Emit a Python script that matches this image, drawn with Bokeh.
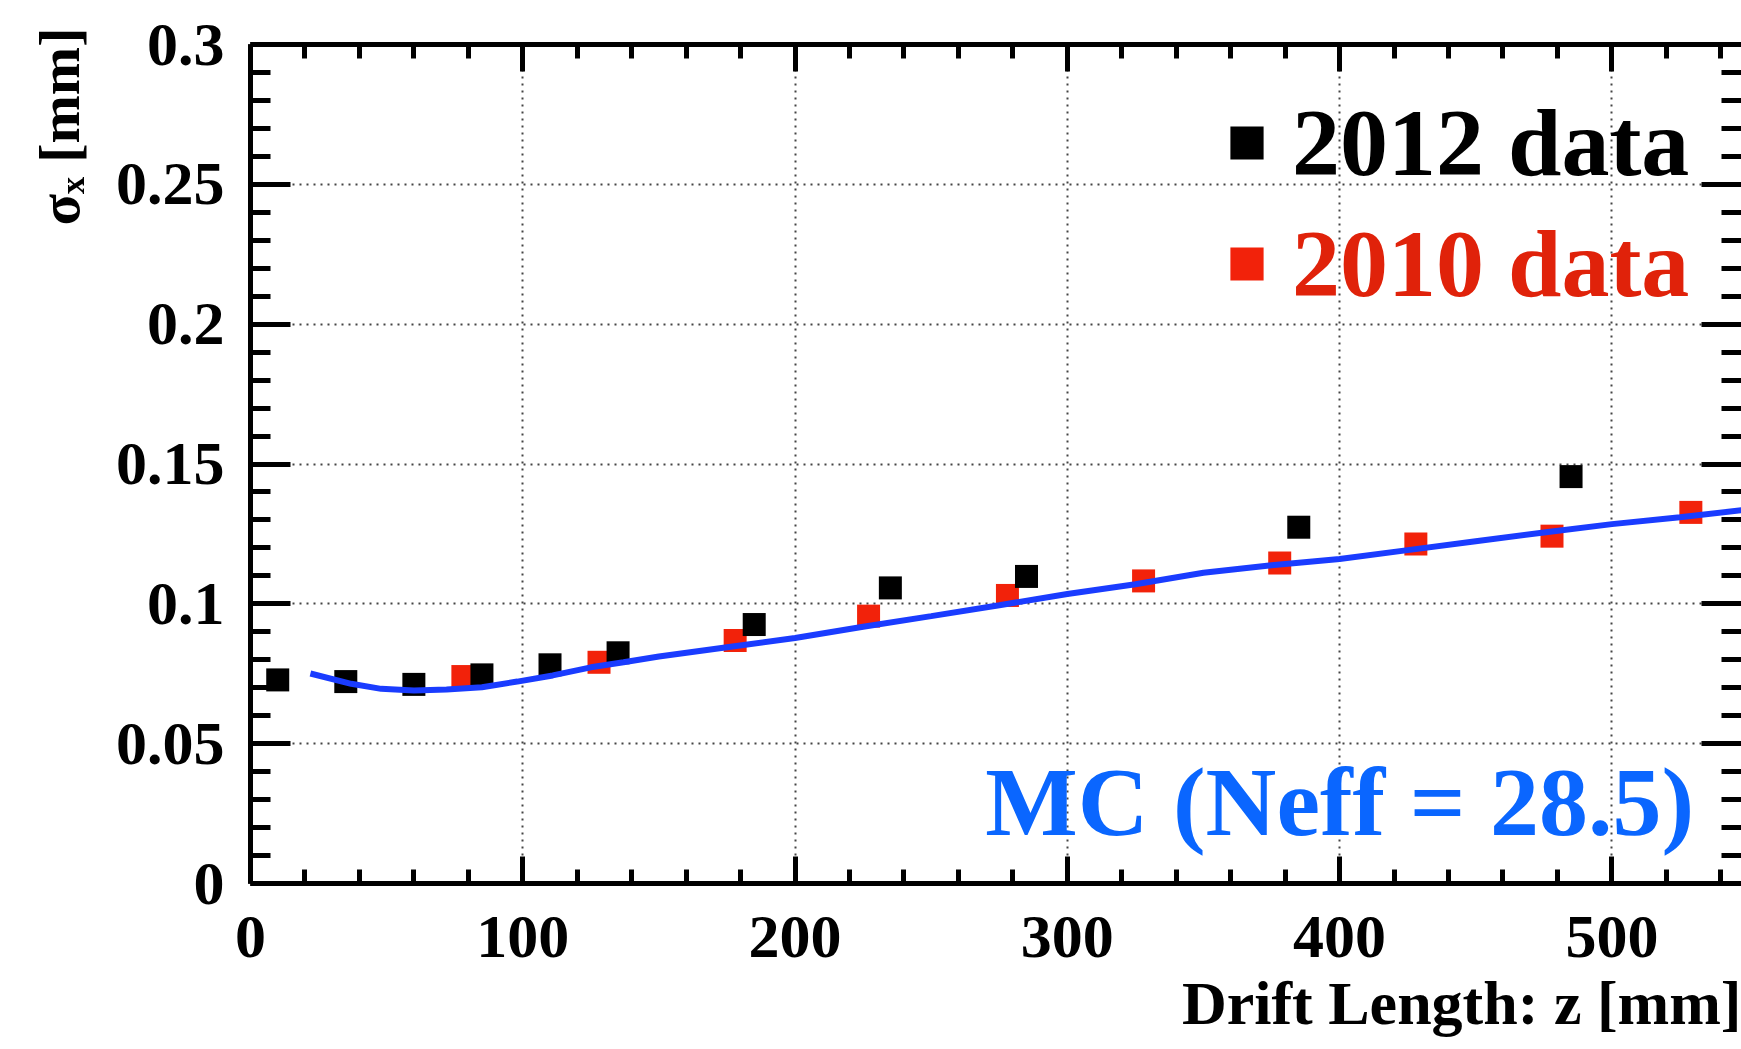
from bokeh.plotting import figure
from bokeh.models import (Range1d, LinearAxis, SingleIntervalTicker, NumeralTickFormatter,
                          CustomJSTickFormatter, Legend, LegendItem, Label, Title)
from bokeh.embed import file_html
from bokeh.resources import INLINE

# ---- data ----
z_2012 = [10, 35, 60, 85, 110, 135, 185, 235, 285, 385, 485]
sigma_2012 = [0.0728, 0.0722, 0.0712, 0.0746, 0.0782, 0.0825, 0.0926, 0.1057, 0.1098, 0.1274, 0.1455]

z_2010 = [78, 128, 178, 227, 278, 328, 378, 428, 478, 529]
sigma_2010 = [0.0740, 0.0791, 0.0869, 0.0956, 0.1030, 0.1082, 0.1146, 0.1214, 0.1242, 0.1327]

z_mc = [22, 37, 48, 60, 72, 85, 98, 111, 125, 137, 150, 175, 200, 225, 250, 275, 300,
        325, 350, 375, 400, 425, 450, 475, 500, 525, 548]
sigma_mc = [0.0751, 0.0714, 0.0696, 0.0690, 0.0694, 0.0702, 0.0722, 0.0744, 0.0773, 0.0791,
            0.0812, 0.0845, 0.0878, 0.0918, 0.0956, 0.0995, 0.1035, 0.1070, 0.1111, 0.1138,
            0.1160, 0.1192, 0.1224, 0.1255, 0.1285, 0.1310, 0.1335]

x_label = "Drift Length: z [mm]"
y_label = "σₓ [mm]"
legend_2012 = "2012 data"
legend_2010 = "2010 data"
mc_text = "MC (Neff = 28.5)"

RED_MARK = "#f2220a"
RED_TEXT = "#e0220a"
BLUE_LINE = "#1a3cff"
BLUE_TEXT = "#0a66ff"
FONT = "Liberation Serif"

p = figure(width=1741, height=1049, output_backend="svg", toolbar_location=None,
           x_range=Range1d(0, 547.6), y_range=Range1d(0, 0.30001),
           min_border_left=250, min_border_top=44, min_border_bottom=166, min_border_right=0,
           background_fill_color="white", border_fill_color="white")
p.outline_line_color = None

xt = SingleIntervalTicker(interval=100, num_minor_ticks=5)
yt = SingleIntervalTicker(interval=0.05, num_minor_ticks=5)

AX_W = 5

xa = p.xaxis[0]
xa.ticker = xt
ya = p.yaxis[0]
ya.ticker = yt
ya.formatter = NumeralTickFormatter(format="0.[00]")

xa.major_tick_in = 27
xa.major_tick_out = 0
xa.minor_tick_in = 14
xa.minor_tick_out = 0
ya.major_tick_in = 40
ya.major_tick_out = 0
ya.minor_tick_in = 20
ya.minor_tick_out = 0

for ax in (xa, ya):
    ax.axis_line_width = AX_W
    ax.major_tick_line_width = AX_W
    ax.minor_tick_line_width = AX_W
    ax.axis_line_color = "black"
    ax.major_label_text_font = FONT
    ax.major_label_text_font_style = "bold"
    ax.major_label_text_font_size = "62px"
    ax.major_label_text_color = "black"

xa.major_label_standoff = 33
ya.major_label_standoff = 26

blank = CustomJSTickFormatter(code="return ''")

# top and right axes (ticks only)
top = LinearAxis(ticker=xt, formatter=blank, major_tick_in=27, major_tick_out=0, minor_tick_in=14,
                 minor_tick_out=0, axis_line_width=AX_W, major_tick_line_width=AX_W,
                 minor_tick_line_width=AX_W, major_label_standoff=0)
right = LinearAxis(ticker=yt, formatter=blank, major_tick_in=40, major_tick_out=0, minor_tick_in=20,
                   minor_tick_out=0, axis_line_color=None, major_tick_line_width=AX_W,
                   minor_tick_line_width=AX_W, major_label_standoff=0)
p.add_layout(top, "above")
p.add_layout(right, "right")

# axis titles at the axis ends (ROOT style)
p.add_layout(Title(text=x_label, align="right", text_font=FONT, text_font_style="bold",
                   text_font_size="62px", text_color="black", standoff=14), "below")
p.add_layout(Title(text=y_label, align="right", text_font=FONT, text_font_style="bold",
                   text_font_size="58px", text_color="black", standoff=42, offset=-17), "left")

for g in (p.xgrid[0], p.ygrid[0]):
    g.grid_line_color = "#444444"
    g.grid_line_width = 2
    g.grid_line_dash = "2 5"

r_red = p.scatter(z_2010, sigma_2010, marker="square", size=23, fill_color=RED_MARK, line_color=None)
r_blk = p.scatter(z_2012, sigma_2012, marker="square", size=23, fill_color="black", line_color=None)
p.line(z_mc, sigma_mc, line_color=BLUE_LINE, line_width=6)

def make_legend(label, renderer, color, loc):
    return Legend(items=[LegendItem(label=label, renderers=[renderer])], location=loc,
                  glyph_width=83, glyph_height=119, label_height=119, label_standoff=4,
                  padding=0, margin=0, spacing=0, border_line_color=None,
                  background_fill_alpha=0, label_text_font=FONT, label_text_font_style="bold",
                  label_text_font_size="96px", label_text_color=color)

p.add_layout(make_legend(legend_2012, r_blk, "black", (955, 681)))
p.add_layout(make_legend(legend_2010, r_red, RED_TEXT, (955, 560)))

# MC annotation
p.add_layout(Label(x=530.2, y=0.029, text=mc_text, text_align="right", text_baseline="middle",
                   text_font=FONT, text_font_style="bold", text_font_size="98px",
                   text_color=BLUE_TEXT))

open("out.html", "w").write(file_html(p, INLINE))
